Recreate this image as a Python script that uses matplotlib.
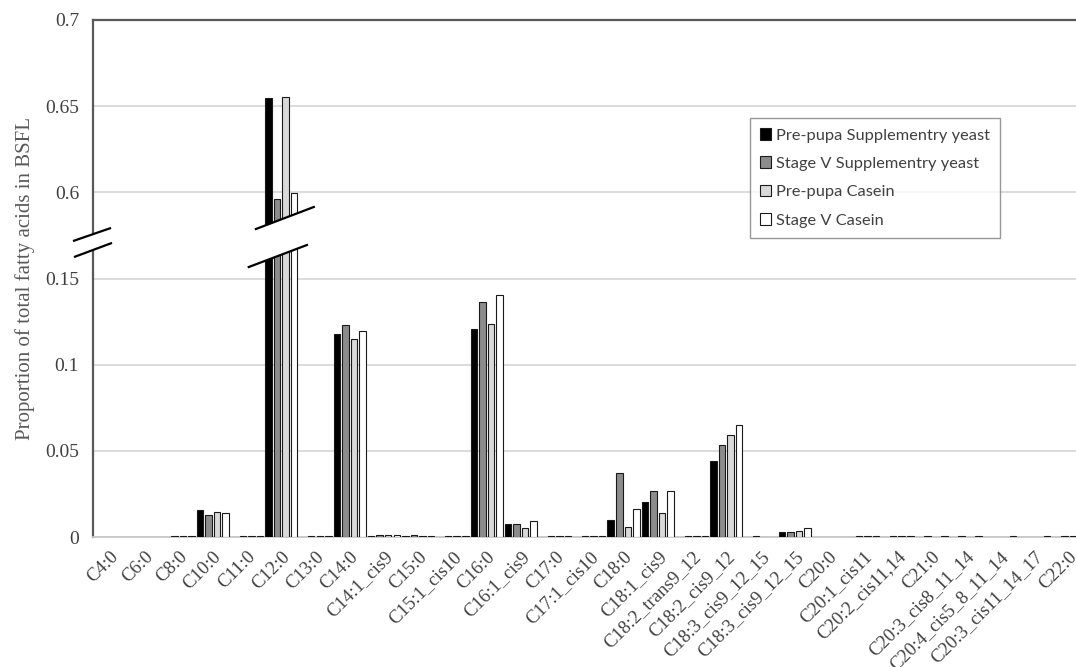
import numpy as np
import matplotlib
matplotlib.use('Agg')
import matplotlib.pyplot as plt
from matplotlib.patches import Polygon
from matplotlib.lines import Line2D
from matplotlib.transforms import blended_transform_factory

categories = ['C4:0', 'C6:0', 'C8:0', 'C10:0', 'C11:0', 'C12:0', 'C13:0', 'C14:0',
              'C14:1_cis9', 'C15:0', 'C15:1_cis10', 'C16:0', 'C16:1_cis9', 'C17:0',
              'C17:1_cis10', 'C18:0', 'C18:1_cis9', 'C18:2_trans9_12', 'C18:2_cis9_12',
              'C18:3_cis9_12_15', 'C18:3_cis9_12_15', 'C20:0', 'C20:1_cis11',
              'C20:2_cis11,14', 'C21:0', 'C20:3_cis8_11_14', 'C20:4_cis5_8_11_14',
              'C20:3_cis11_14_17', 'C22:0']

prepupa_yeast = [0, 0, 0, 0.0157, 0, 0.6545, 0, 0.1178, 0.0005, 0.0007, 0, 0.1209, 0.0078,
                 0, 0, 0.0101, 0.0205, 0, 0.0442, 0, 0.0031, 0, 0, 0, 0, 0, 0, 0, 0]
stagev_yeast = [0, 0, 0.0005, 0.0128, 0.0005, 0.5958, 0.0005, 0.1231, 0.0012, 0.0012, 0.0005,
                0.1366, 0.0078, 0.0005, 0.0005, 0.0370, 0.0267, 0.0005, 0.0535, 0.0005, 0.0031,
                0, 0.0005, 0.0005, 0.0005, 0.0005, 0, 0, 0.0005]
prepupa_casein = [0, 0, 0.0005, 0.0147, 0.0005, 0.6554, 0.0005, 0.1151, 0.0012, 0.0006, 0.0005,
                  0.1236, 0.0050, 0.0005, 0.0005, 0.0058, 0.0141, 0.0005, 0.0593, 0, 0.0035,
                  0, 0.0005, 0.0005, 0, 0, 0, 0, 0.0005]
stagev_casein = [0, 0, 0.0005, 0.0138, 0.0005, 0.5992, 0.0005, 0.1195, 0.0010, 0.0006, 0.0005,
                 0.1409, 0.0095, 0.0005, 0.0005, 0.0161, 0.0267, 0.0005, 0.0651, 0, 0.0054,
                 0, 0.0005, 0.0005, 0.0005, 0.0005, 0.0005, 0.0005, 0.0005]

series = [prepupa_yeast, stagev_yeast, prepupa_casein, stagev_casein]
labels = ['Pre-pupa Supplementry yeast', 'Stage V Supplementry yeast',
          'Pre-pupa Casein', 'Stage V Casein']
colors = ['#000000', '#8c8c8c', '#d9d9d9', '#ffffff']

yticks = [0, 0.05, 0.1, 0.15, 0.6, 0.65, 0.7]
ytick_labels = ['0', '0.05', '0.1', '0.15', '0.6', '0.65', '0.7']

# broken y axis: squeeze 0.175..0.575 to almost nothing
lo, hi, k = 0.175, 0.575, 0.001
gap = hi - lo


def fwd(v):
    v = np.asarray(v, dtype=float)
    return np.where(v <= lo, v, np.where(v >= hi, v - gap + gap * k, lo + (v - lo) * k))


def inv(u):
    u = np.asarray(u, dtype=float)
    return np.where(u <= lo, u, np.where(u >= lo + gap * k, u + gap - gap * k, lo + (u - lo) / k))


serif = 'Liberation Serif'
fig = plt.figure(figsize=(10.76, 6.67), dpi=100)
ax = fig.add_axes([93 / 1076, 130 / 667, 992.7 / 1076, 517 / 667])
ax.set_yscale('function', functions=(fwd, inv))

x = np.arange(len(categories))
width = 0.19
step = 0.25
for j, (vals, lab, col) in enumerate(zip(series, labels, colors)):
    vals = np.asarray(vals, dtype=float)
    m = vals > 0
    ax.bar(x[m] + (j - 1.5) * step, vals[m], width=width, color=col,
           edgecolor='#1a1a1a', linewidth=0.8, label=lab, zorder=3)

ax.set_xlim(-0.5, len(categories) - 0.5)
ax.set_ylim(0, 0.7)
ax.set_yticks(yticks)
ax.set_yticklabels(ytick_labels)
ax.yaxis.set_minor_locator(matplotlib.ticker.NullLocator())
ax.grid(axis='y', color='#d9d9d9', linewidth=1.3, zorder=0)
ax.set_axisbelow(True)
ax.set_xticks(x)
ax.set_xticklabels(categories, rotation=45, ha='right', rotation_mode='anchor',
                   fontfamily=serif, fontsize=13.5, color='#404040')
ax.tick_params(axis='both', length=0)
ax.tick_params(axis='x', pad=8)
ax.tick_params(axis='y', pad=10)
for t in ax.get_yticklabels():
    t.set_fontfamily(serif)
    t.set_fontsize(14)
    t.set_color('#404040')

ax.set_ylabel('Proportion of total fatty acids in BSFL', fontfamily=serif,
              fontsize=15, color='#595959', labelpad=7)

for s in ['top', 'left']:
    ax.spines[s].set_color('#595959')
    ax.spines[s].set_linewidth(1.6)
ax.spines['bottom'].set_color('#c8c8c8')
ax.spines['bottom'].set_linewidth(1.3)
ax.spines['right'].set_visible(False)

# break band across the tall C12:0 bars
tr = blended_transform_factory(ax.transData, ax.transAxes)
up = [(4.26, 0.5957), (5.95, 0.6383)]
dn = [(4.05, 0.5222), (5.75, 0.5648)]
ax.add_patch(Polygon([dn[0], dn[1], up[1], up[0]], closed=True, transform=tr,
                     facecolor='white', edgecolor='none', zorder=5, clip_on=False))
for ln in (up, dn):
    ax.add_line(Line2D([p[0] for p in ln], [p[1] for p in ln], transform=tr,
                       color='black', linewidth=1.6, zorder=6, clip_on=False))

# break marks on the value axis
aup = [(-0.0191, 0.5731), (0.0171, 0.5971)]
adn = [(-0.0181, 0.5422), (0.0181, 0.5681)]
ax.add_patch(Polygon([adn[0], adn[1], aup[1], aup[0]], closed=True,
                     transform=ax.transAxes, facecolor='white', edgecolor='none',
                     zorder=5, clip_on=False))
for ln in (aup, adn):
    ax.add_line(Line2D([p[0] for p in ln], [p[1] for p in ln], transform=ax.transAxes,
                       color='black', linewidth=1.6, zorder=6, clip_on=False))

leg = ax.legend(loc='upper left', bbox_to_anchor=(0.662, 0.81), frameon=True,
                fancybox=False, prop={'family': 'Lato', 'size': 11.8},
                handlelength=0.7, handleheight=0.7, handletextpad=0.3,
                labelspacing=0.85, borderpad=0.6, borderaxespad=0)
leg.get_frame().set_edgecolor('#7f7f7f')
leg.get_frame().set_linewidth(1.0)
for t in leg.get_texts():
    t.set_color('#404040')

fig.savefig('out.png', dpi=100)
